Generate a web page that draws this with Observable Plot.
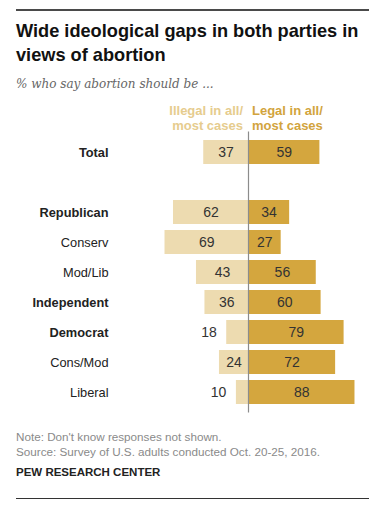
<!DOCTYPE html>
<html><head><meta charset="utf-8">
<script src="https://cdn.jsdelivr.net/npm/d3@7"></script>
<script src="https://cdn.jsdelivr.net/npm/@observablehq/plot@0.6"></script>
<style>
html,body{margin:0;padding:0;background:#fff;}
body{width:389px;height:508px;position:relative;overflow:hidden;font-family:"Liberation Sans",Arial,sans-serif;}
.abs{position:absolute;}
#rt{top:9px;left:16px;width:353px;height:2px;background:#4a4a4a;}
#title{top:19px;left:16px;width:365px;font-size:18.2px;font-weight:bold;line-height:24px;color:#111;}
#sub{top:76px;left:16px;font-family:"DejaVu Serif","Liberation Serif",serif;font-style:italic;font-size:12px;line-height:16px;color:#666;}
.hd{top:103px;font-size:13px;font-weight:bold;line-height:15px;}
#hl{right:146px;text-align:right;color:#E6CC8E;}
#hr{left:252px;text-align:left;color:#D2A43D;}
#chart{top:100px;left:0;}
.ft{left:16px;font-size:11.7px;line-height:15px;color:#8a8a8a;}
#note{top:429px;}
#pew{top:466px;left:16px;font-size:11.5px;font-weight:bold;color:#222;}
#rb{top:498px;left:16px;width:353px;height:1px;background:#333;}
</style></head>
<body>
<div class="abs" id="rt"></div>
<div class="abs" id="title">Wide ideological gaps in both parties in views of abortion</div>
<div class="abs" id="sub">% who say abortion should be ...</div>
<div class="abs hd" id="hl">Illegal in all/<br>most cases</div>
<div class="abs hd" id="hr">Legal in all/<br>most cases</div>
<div class="abs" id="chart"></div>
<div class="abs ft" id="note">Note: Don't know responses not shown.<br>Source: Survey of U.S. adults conducted Oct. 20-25, 2016.</div>
<div class="abs" id="pew">PEW RESEARCH CENTER</div>
<div class="abs" id="rb"></div>
<script>
const groups = ["Total", " ", "Republican", "Conserv", "Mod/Lib", "Independent", "Democrat", "Cons/Mod", "Liberal"];
const boldGroups = ["Total", "Republican", "Independent", "Democrat"];
const illegal = [37, null, 62, 69, 43, 36, 18, 24, 10];
const legal = [59, null, 34, 27, 56, 60, 79, 72, 88];

const rows = groups.map((g, i) => ({g, ill: illegal[i], leg: legal[i]})).filter(d => d.ill != null);
const inside = rows.filter(d => d.ill >= 20);
const outside = rows.filter(d => d.ill < 20);

const chart = Plot.plot({
  width: 389,
  height: 330,
  marginLeft: 127,
  marginRight: 20,
  marginTop: 31.6,
  marginBottom: 17.5,
  x: {domain: [-100, 100], axis: null},
  y: {domain: groups, padding: 0.21, label: null},
  style: {fontFamily: "'Liberation Sans', Arial, sans-serif", overflow: "visible"},
  marks: [
    Plot.barX(rows, {y: "g", x1: 0, x2: d => -d.ill, fill: "#EDDBB0"}),
    Plot.barX(rows, {y: "g", x1: 0, x2: "leg", fill: "#D4A63E"}),
    Plot.ruleX([0], {stroke: "#8c8c8c", strokeWidth: 1.2}),
    Plot.text(inside, {y: "g", x: d => -d.ill / 2, text: d => String(d.ill), fontSize: 14, fill: "#333"}),
    Plot.text(outside, {y: "g", x: d => -d.ill, dx: -10, textAnchor: "end", text: d => String(d.ill), fontSize: 14, fill: "#333"}),
    Plot.text(rows, {y: "g", x: d => d.leg / 2, text: d => String(d.leg), fontSize: 14, fill: "#333"}),
    Plot.axisY({tickSize: 0, tickPadding: 19, fontSize: 12.8, fill: "#222", tickFormat: d => d})
  ]
});
d3.select(chart).selectAll("text").each(function() {
  if (boldGroups.includes(this.textContent)) d3.select(this).attr("font-weight", "bold");
});
document.getElementById("chart").appendChild(chart);
</script>
</body></html>
